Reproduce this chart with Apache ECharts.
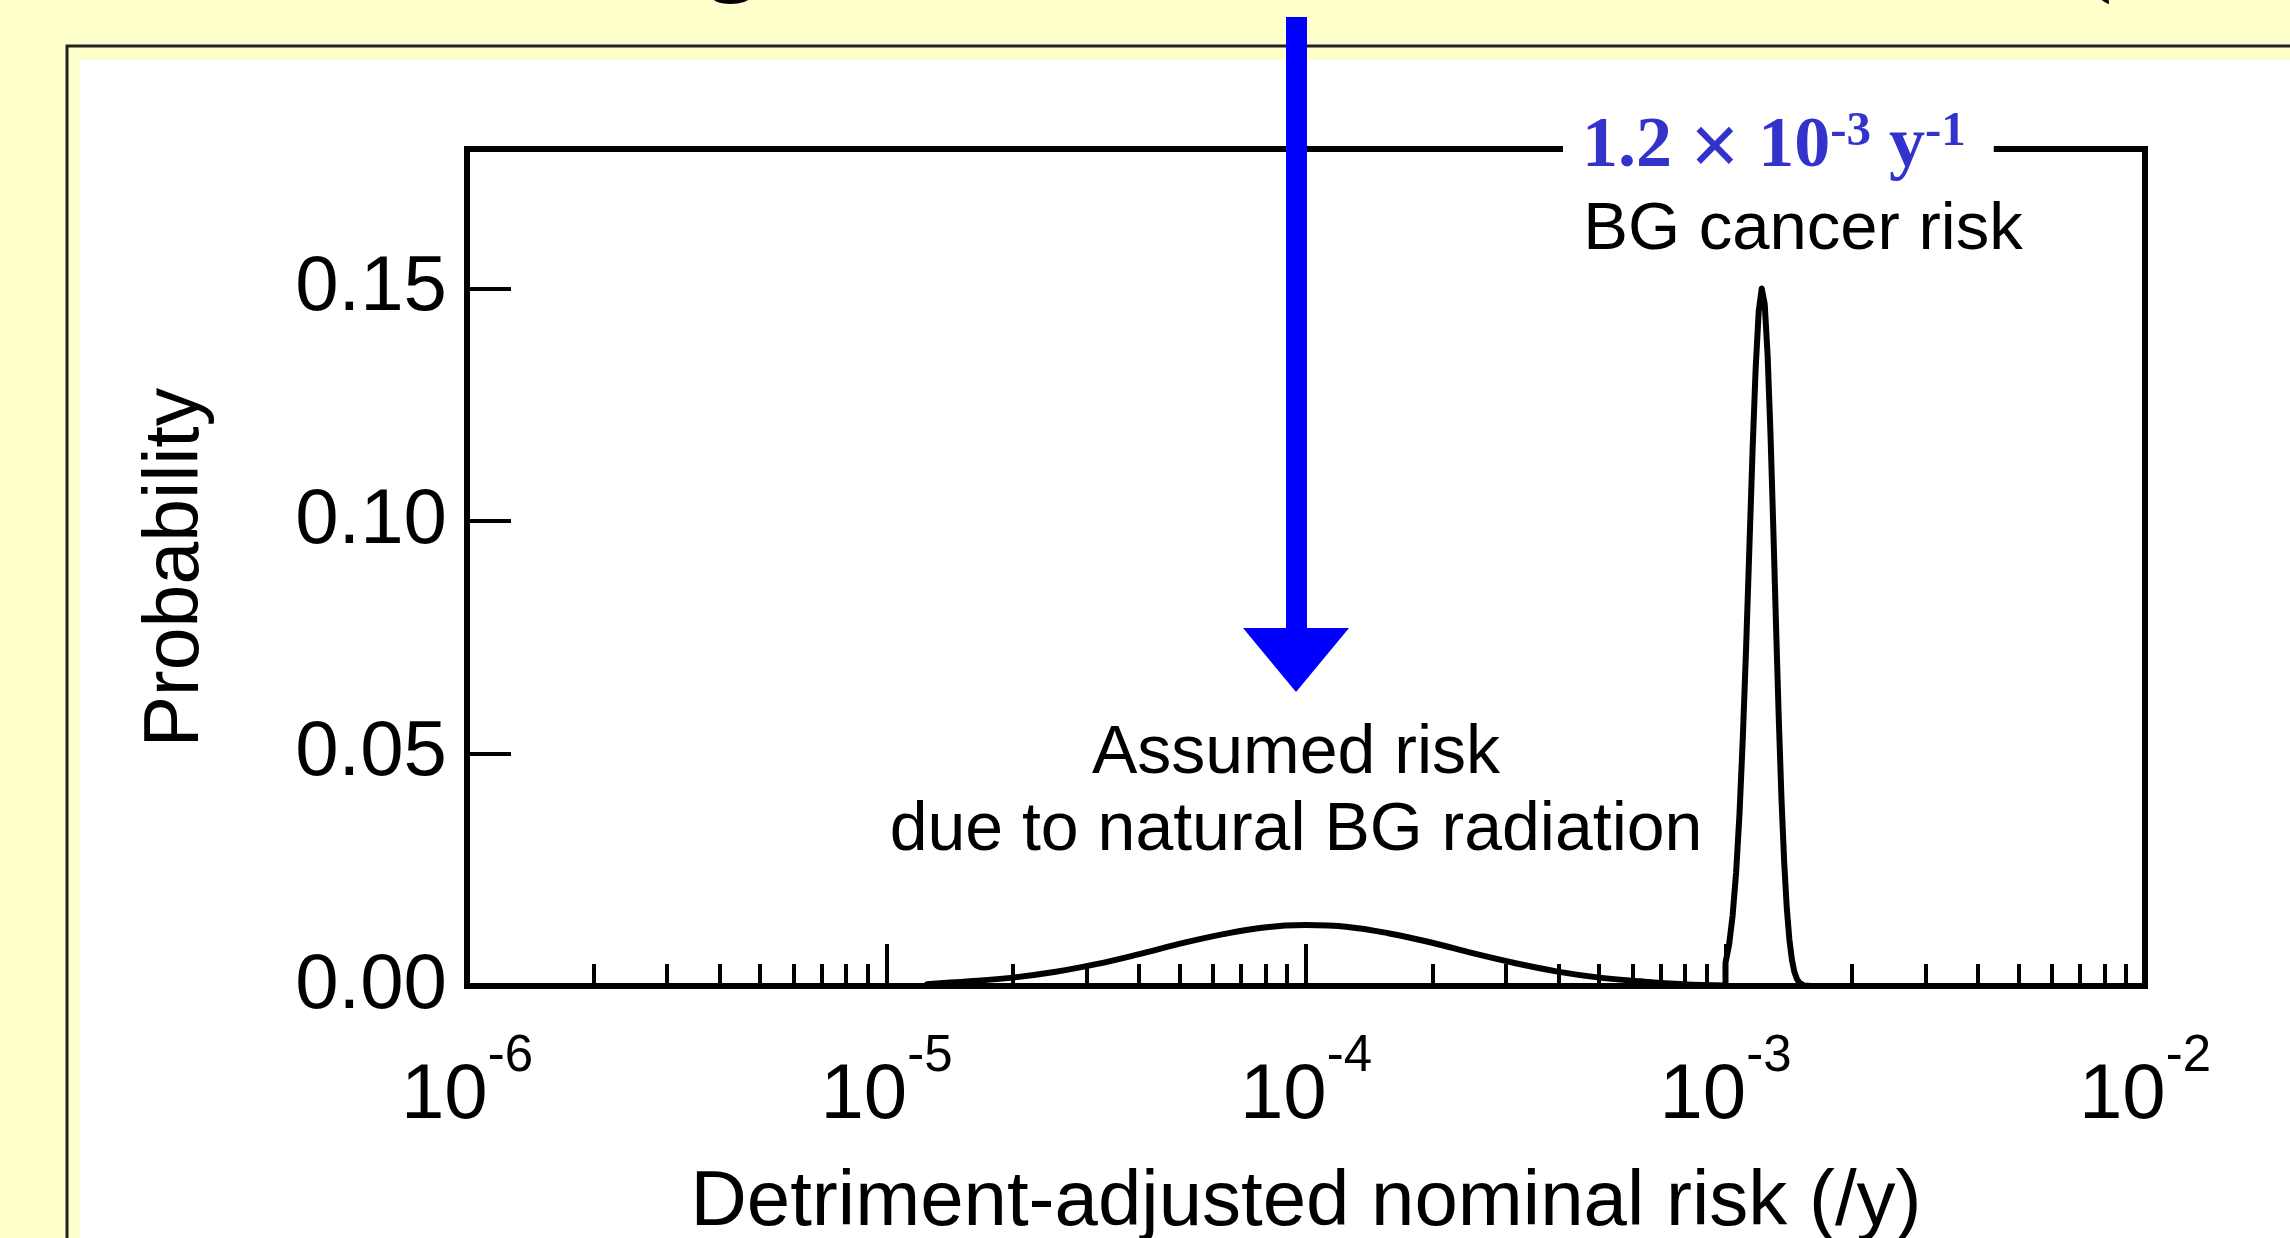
<!DOCTYPE html>
<html><head><meta charset="utf-8">
<script src="https://cdn.jsdelivr.net/npm/echarts@6/dist/echarts.min.js"></script>
<style>html,body{margin:0;padding:0;background:#FFFFCC;overflow:hidden}#c{width:2290px;height:1238px;}</style>
</head><body><div id="c"></div>
<script>
// ---- data ----
const xMajorTicks = [1e-6, 1e-5, 1e-4, 1e-3, 1e-2];
const xTickExponents = ['-6', '-5', '-4', '-3', '-2'];
const xMinorMantissas = [2, 3, 4, 5, 6, 7, 8, 9];
const yTicks = [0, 0.05, 0.10, 0.15];
const yTickLabels = ['0.00', '0.05', '0.10', '0.15'];

// broad distribution: assumed risk due to natural BG radiation
const bellX = [1.25e-5, 1.58e-5, 2.0e-5, 2.51e-5, 3.16e-5, 3.98e-5, 5.01e-5, 6.31e-5, 7.94e-5, 1.0e-4,
               1.26e-4, 1.58e-4, 2.0e-4, 2.51e-4, 3.16e-4, 3.98e-4, 5.01e-4, 6.31e-4, 7.94e-4, 1.0e-3];
const bellY = [0.0004, 0.0010, 0.0018, 0.0030, 0.0047, 0.0068, 0.0091, 0.0111, 0.0126, 0.0131,
               0.0127, 0.0113, 0.0093, 0.0070, 0.0049, 0.0031, 0.0018, 0.0010, 0.0004, 0.0001];

// narrow distribution: BG cancer risk (1.2e-3 /y)
const spikeX = [1.0e-3, 1.0e-3, 1.02e-3, 1.04e-3, 1.06e-3, 1.08e-3, 1.10e-3, 1.12e-3, 1.14e-3, 1.16e-3,
                1.18e-3, 1.20e-3, 1.22e-3, 1.24e-3, 1.26e-3, 1.28e-3, 1.30e-3, 1.32e-3, 1.34e-3, 1.36e-3,
                1.38e-3, 1.40e-3, 1.42e-3, 1.44e-3, 1.46e-3, 1.48e-3, 1.50e-3, 1.54e-3, 1.60e-3];
const spikeY = [0, 0.0050, 0.0089, 0.0152, 0.0244, 0.0371, 0.0536, 0.0730, 0.0942, 0.1150,
                0.1328, 0.1451, 0.1500, 0.1467, 0.1357, 0.1188, 0.0985, 0.0771, 0.0572, 0.0401,
                0.0266, 0.0167, 0.0100, 0.0056, 0.0030, 0.0015, 0.0007, 0.0001, 0];

const xMinorTicks = xMajorTicks.slice(0, 4).reduce((acc, d) => acc.concat(xMinorMantissas.map(m => m * d)), []);

const SANS = 'Liberation Sans';
const SERIF = 'Liberation Serif';

const chart = echarts.init(document.getElementById('c'), null, {renderer: 'canvas'});

const xFormatter = function (v) {
  const i = xMajorTicks.findIndex(t => Math.abs(Math.log10(t) - Math.log10(v)) < 1e-6);
  return i < 0 ? '' : '{n|10}{s|' + xTickExponents[i] + '}';
};
const yFormatter = function (v) {
  const i = yTicks.findIndex(t => Math.abs(t - v) < 1e-9);
  return i < 0 ? '' : yTickLabels[i];
};

const option = {
  animation: false,
  backgroundColor: '#FFFFCC',
  textStyle: {fontFamily: SANS},
  grid: {
    left: 467, right: 145, top: 149, bottom: 252,
    show: true, borderColor: '#000', borderWidth: 6, backgroundColor: 'transparent',
    containLabel: false, outerBoundsMode: 'none'
  },
  xAxis: [
    {
      type: 'log', logBase: 10, min: 1e-6, max: 1e-2, position: 'bottom',
      axisLine: {show: true, onZero: false, lineStyle: {color: '#000', width: 6}},
      axisTick: {show: true, inside: true, length: 42, customValues: xMajorTicks, lineStyle: {color: '#000', width: 4}},
      minorTick: {show: false},
      splitLine: {show: false},
      axisLabel: {
        show: true, customValues: xMajorTicks, formatter: xFormatter, margin: 45, color: '#000',
        rich: {
          n: {fontSize: 78, lineHeight: 130, fontFamily: SANS, color: '#000'},
          s: {fontSize: 51, lineHeight: 51, fontFamily: SANS, color: '#000', verticalAlign: 'top'}
        }
      },
      name: 'Detriment-adjusted nominal risk (/y)',
      nameLocation: 'middle', nameGap: 178, nameMoveOverlap: false,
      nameTextStyle: {fontSize: 78, color: '#000', fontFamily: SANS}
    },
    {
      type: 'log', logBase: 10, min: 1e-6, max: 1e-2, position: 'bottom',
      axisLine: {show: false, onZero: false},
      axisTick: {show: true, inside: true, length: 22, customValues: xMinorTicks, lineStyle: {color: '#000', width: 4}},
      axisLabel: {show: false},
      splitLine: {show: false}
    }
  ],
  yAxis: {
    type: 'value', min: 0, max: 0.18,
    axisLine: {show: true, onZero: false, lineStyle: {color: '#000', width: 6}},
    axisTick: {show: true, inside: true, length: 44, customValues: yTicks, lineStyle: {color: '#000', width: 4}},
    splitLine: {show: false},
    axisLabel: {show: true, customValues: yTicks, formatter: yFormatter, margin: 20, fontSize: 78, color: '#000', fontFamily: SANS},
    name: 'Probability', nameLocation: 'middle', nameGap: 252, nameRotate: 90, nameMoveOverlap: false,
    nameTextStyle: {fontSize: 77, color: '#000', fontFamily: SANS}
  },
  series: [
    {
      type: 'line', xAxisIndex: 0, yAxisIndex: 0, symbol: 'none', showSymbol: false,
      smooth: 0.4, z: 3,
      lineStyle: {color: '#000', width: 6, cap: 'round', join: 'round'},
      data: bellX.map((x, i) => [x, bellY[i]])
    },
    {
      type: 'line', xAxisIndex: 0, yAxisIndex: 0, symbol: 'none', showSymbol: false,
      smooth: false, z: 3,
      lineStyle: {color: '#000', width: 6, cap: 'round', join: 'round'},
      data: spikeX.map((x, i) => [x, spikeY[i]])
    }
  ],
  graphic: [
    // slide panel
    {type: 'rect', z: -20, silent: true, shape: {x: 67, y: 46, width: 3000, height: 3000},
     style: {fill: '#FFFFCC', stroke: '#222', lineWidth: 3}},
    {type: 'rect', z: -19, silent: true, shape: {x: 80, y: 60, width: 3000, height: 3000},
     style: {fill: '#FFFFFF'}},
    // fragments of the slide title cut off at the top
    {type: 'text', z: 50, x: 708, y: -41, style: {text: 'g', fontSize: 96, fontWeight: 'bold', fontFamily: SERIF, fill: '#000', align: 'left', verticalAlign: 'middle'}},
    {type: 'text', z: 50, x: 2080, y: -41, style: {text: '(', fontSize: 96, fontFamily: SERIF, fill: '#000', align: 'left', verticalAlign: 'middle'}},
    // annotation on the top frame
    {type: 'text', z: 60, x: 1563, y: 108,
     style: {
       text: '{a|1.2 }{x|×}{a| 10}{s|-3}{a| y}{s|-1}',
       align: 'left', verticalAlign: 'top', backgroundColor: '#FFFFFF', padding: [0, 28, 0, 19],
       rich: {
         a: {fontSize: 72, lineHeight: 78, fontWeight: 'bold', fontFamily: SERIF, fill: '#3333CC', color: '#3333CC'},
         x: {fontSize: 88, lineHeight: 56, fontWeight: 'bold', fontFamily: SERIF, fill: '#3333CC', color: '#3333CC', verticalAlign: 'top'},
         s: {fontSize: 49, lineHeight: 49, fontWeight: 'bold', fontFamily: SERIF, fill: '#3333CC', color: '#3333CC', verticalAlign: 'top'}
       }
     }},
    {type: 'text', z: 60, x: 1803, y: 231,
     style: {text: 'BG cancer risk', fontSize: 67, fontFamily: SANS, fill: '#000', align: 'center', verticalAlign: 'middle'}},
    {type: 'text', z: 60, x: 1296, y: 716,
     style: {text: 'Assumed risk\ndue to natural BG radiation', fontSize: 68, lineHeight: 77, fontFamily: SANS, fill: '#000', align: 'center', verticalAlign: 'top'}},
    // blue arrow
    {type: 'rect', z: 70, shape: {x: 1286, y: 17, width: 21, height: 612}, style: {fill: '#0000FF'}},
    {type: 'polygon', z: 70, shape: {points: [[1243, 628], [1349, 628], [1296, 692]]}, style: {fill: '#0000FF'}}
  ]
};
chart.setOption(option);
</script></body></html>
